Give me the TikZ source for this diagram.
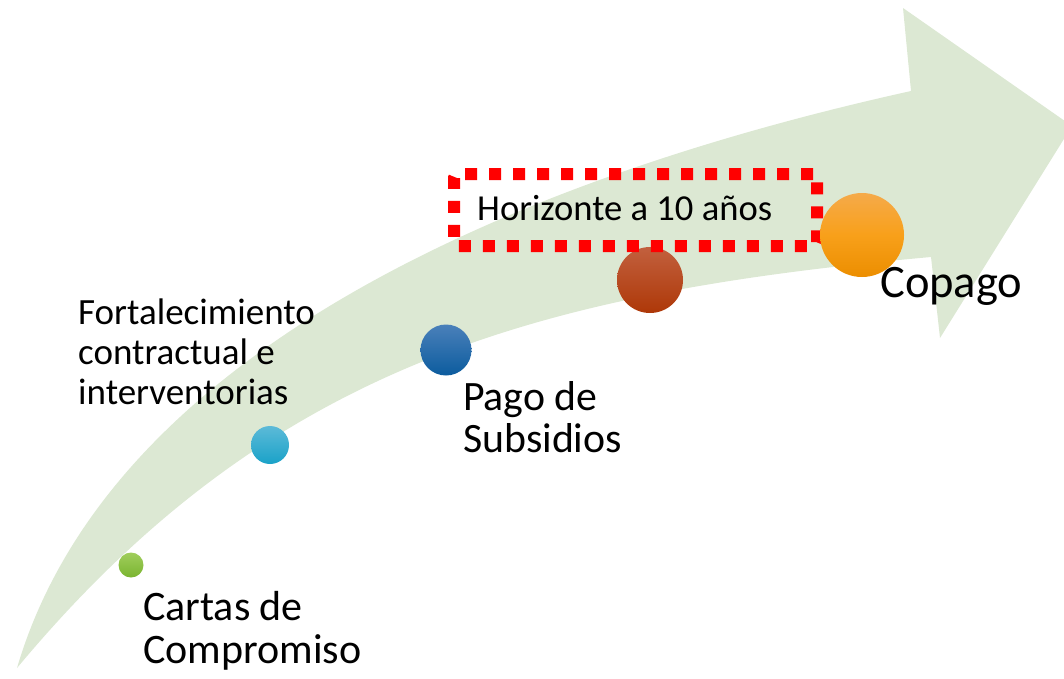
\documentclass[tikz,border=0pt]{standalone}
\usepackage{fontspec}
\setmainfont{Carlito}
\definecolor{band}{RGB}{220,232,211}
\definecolor{dotred}{RGB}{255,0,0}
\definecolor{gtop}{RGB}{160,206,92}
\definecolor{gbot}{RGB}{122,180,48}
\definecolor{ctop}{RGB}{92,186,216}
\definecolor{cbot}{RGB}{26,162,200}
\definecolor{btop}{RGB}{74,128,186}
\definecolor{bbot}{RGB}{12,92,158}
\definecolor{rtop}{RGB}{194,96,62}
\definecolor{rbot}{RGB}{174,56,8}
\definecolor{otop}{RGB}{245,170,74}
\definecolor{omid}{RGB}{248,160,26}
\definecolor{obot}{RGB}{236,142,0}
\begin{document}
\begin{tikzpicture}[x=1pt,y=-1pt,
  dot/.style={circle,inner sep=0pt,draw=none},
  lbl/.style={inner sep=0pt,anchor=base west,align=left,text=black},
  dotbox/.style={draw=dotred,line width=12pt,dash pattern=on 12pt off 12pt,rounded corners=4pt,inner sep=0pt}
]
\useasboundingbox (0,0) rectangle (1064,678);
\clip (0,0) rectangle (1064,678);
% curved arrow
\fill[band] (17,668) .. controls (112,345) and (531,175) .. (911,91)
  -- (903,8) -- (1072,126) -- (940,338) -- (931,257)
  .. controls (531,293) and (267,368) .. (17,668) -- cycle;
% circles
\node[dot,minimum size=25pt,top color=gtop,bottom color=gbot] (c1) at (131,565) {};
\node[dot,minimum size=38pt,top color=ctop,bottom color=cbot] (c2) at (270,445) {};
\node[dot,minimum size=51pt,top color=btop,bottom color=bbot] (c3) at (446,350) {};
\node[dot,minimum size=66pt,top color=rtop,bottom color=rbot] (c4) at (650,280) {};
\node[dotbox,minimum width=363pt,minimum height=72pt] (frame) at (635.5,210) {};
\node[dot,minimum size=84pt,top color=otop,bottom color=obot,middle color=omid] (c5) at (862,235) {};
% labels (base anchor = baseline of last line)
\node[lbl,font=\fontsize{37}{40}\selectfont] (fort) at (78,404) {Fortalecimiento\\contractual e\\interventorias};
\node[lbl,font=\fontsize{41.8}{42}\selectfont] (pago) at (463,452) {Pago de\\Subsidios};
\node[lbl,font=\fontsize{42}{43}\selectfont] (cartas) at (143,663) {Cartas de\\Compromiso};
\node[lbl,font=\fontsize{46.5}{50}\selectfont] (copago) at (880,297) {Copago};
\node[lbl,font=\fontsize{36.6}{40}\selectfont] (horiz) at (477,220) {Horizonte a 10 años};
\end{tikzpicture}
\end{document}
